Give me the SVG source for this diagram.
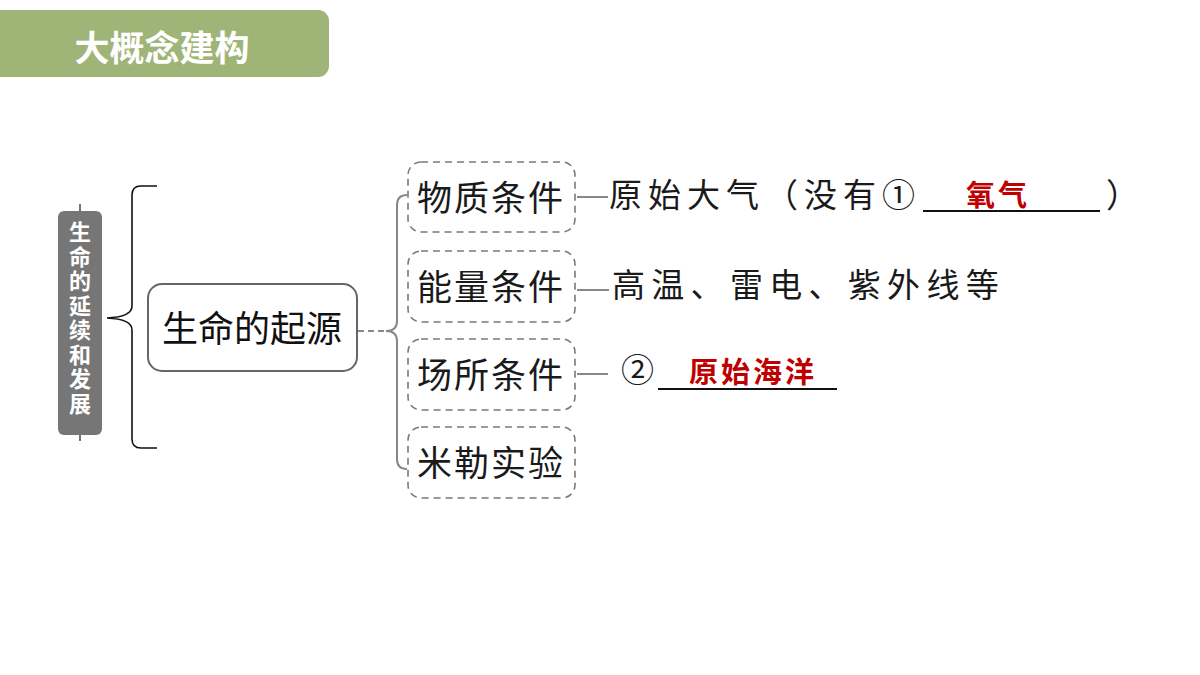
<svg xmlns="http://www.w3.org/2000/svg" width="1200" height="675" viewBox="0 0 1200 675">
<style>
.cjk{font-family:"Noto Sans CJK SC","Noto Sans",sans-serif;}
.box{fill:#fff;stroke:#7a7a7a;stroke-width:1.6;stroke-dasharray:7 5;}
.bt{font-size:35px;fill:#1a1a1a;letter-spacing:2px;}
.rt{font-size:33px;fill:#1a1a1a;}
.red{font-size:29px;fill:#c00000;font-weight:bold;}
.ul{stroke:#111;stroke-width:2;}
.con{stroke:#888;stroke-width:2;fill:none;}
</style>
<rect width="1200" height="675" fill="#fff"/>
<g id="header">
<rect x="-20" y="10" width="349" height="67" rx="11" fill="#9fb578"/>
<text x="162" y="61" text-anchor="middle" class="cjk" font-size="35" font-weight="bold" fill="#fff">大概念建构</text>
</g>
<g id="label">
<line x1="80" y1="204" x2="80" y2="441" stroke="#444" stroke-width="1.5"/>
<rect x="58" y="211" width="44" height="224" rx="6" fill="#767676"/>
<text class="cjk" x="80" y="221" writing-mode="vertical-rl" font-size="22" font-weight="bold" fill="#fff" letter-spacing="2.5">生命的延续和发展</text>
</g>
<g id="connectors">
<path d="M157,186 L141,186 Q132,186 132,195 L132,306 Q132,317 107,318 Q132,319 132,330 L132,439 Q132,448 141,448 L157,448" fill="none" stroke="#111" stroke-width="1.6"/>
<line x1="358" y1="331" x2="388" y2="331" stroke="#888" stroke-width="1.8" stroke-dasharray="6 4"/>
<path class="con" d="M407,195 Q397,195 397,205 L397,321 Q397,331 386,331 Q397,331 397,341 L397,459 Q397,469 407,469" stroke-width="1.6"/>
<line class="con" x1="577" y1="197" x2="608" y2="197"/>
<line class="con" x1="577" y1="290" x2="609" y2="290"/>
<line class="con" x1="577" y1="374" x2="608" y2="374"/>
</g>
<g id="center">
<rect x="148" y="284" width="209" height="87" rx="14" fill="#fff" stroke="#666" stroke-width="2"/>
<text x="252" y="342" text-anchor="middle" class="cjk" font-size="36" fill="#111">生命的起源</text>
</g>
<g id="n1">
<rect class="box" x="408" y="162" width="167" height="70" rx="13"/>
<text class="cjk bt" x="417" y="211">物质条件</text>
</g>
<g id="n2">
<rect class="box" x="408" y="251" width="167" height="71" rx="13"/>
<text class="cjk bt" x="417" y="300">能量条件</text>
</g>
<g id="n3">
<rect class="box" x="408" y="339" width="167" height="71" rx="13"/>
<text class="cjk bt" x="417" y="388">场所条件</text>
</g>
<g id="n4">
<rect class="box" x="408" y="427" width="167" height="71" rx="13"/>
<text class="cjk bt" x="417" y="476">米勒实验</text>
</g>
<g id="t1">
<text class="cjk rt" x="609" y="207" letter-spacing="6">原始大气（没有①</text>
<line class="ul" x1="923" y1="211" x2="1100" y2="211"/>
<text class="cjk red" x="966" y="206" letter-spacing="3">氧气</text>
<text class="cjk rt" x="1106" y="207">）</text>
</g>
<g id="t2">
<text class="cjk rt" x="612" y="297" letter-spacing="6.3">高温、雷电、紫外线等</text>
</g>
<g id="t3">
<text class="cjk rt" x="621" y="382">②</text>
<line class="ul" x1="658" y1="389" x2="837" y2="389"/>
<text class="cjk red" x="689" y="383" letter-spacing="3">原始海洋</text>
</g>
</svg>
